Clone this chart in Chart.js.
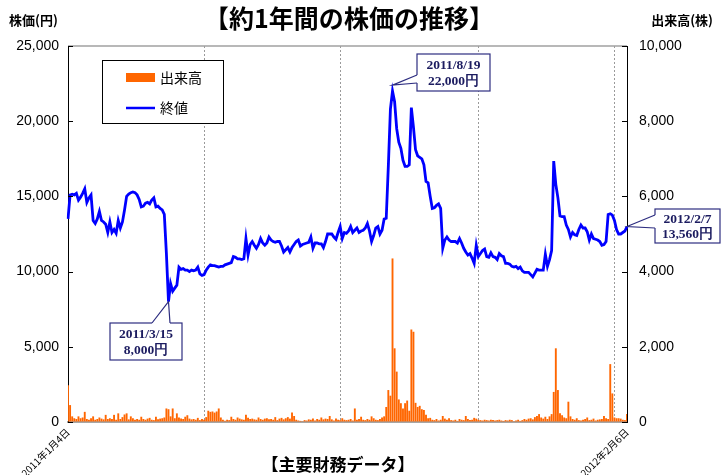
<!DOCTYPE html>
<html>
<head>
<meta charset="utf-8">
<script src="https://cdn.jsdelivr.net/npm/chart.js@4.4.1/dist/chart.umd.min.js"></script>
<style>
  body { margin: 0; background: #fff; }
  #wrap { width: 725px; height: 475px; }
</style>
</head>
<body>
<div id="wrap"><canvas id="stock_chart"></canvas></div>
<script>
// closing price (yen), one value per trading day 2011/1/4 .. 2012/2/6
var price = [
  13500, 15100, 15150, 15100, 15200, 14750, 14950, 15200, 15500, 14600,
  14900, 15100, 13400, 13200, 13500, 14000, 13400, 13300, 13150, 12600,
  13300, 12600, 12800, 12550, 13400, 12900, 13300, 14100, 15000, 15150,
  15250, 15300, 15250, 15100, 14800, 14300, 14350, 14550, 14600, 14500,
  14750, 14900, 14300, 14350, 14200, 14100, 13800, 11200, 8000, 9200,
  8700, 8900, 9100, 10300, 10150, 10200, 10100, 10100, 10000, 10100,
  10050, 10100, 10300, 9850, 9750, 9800, 10100, 10300, 10450, 10400,
  10400, 10350, 10300, 10350, 10350, 10450, 10500, 10550, 10600, 11000,
  10950, 10850, 10850, 10800, 10850, 12200, 11100, 11800, 12000, 11750,
  11550, 11800, 12200, 11900, 11750, 11900, 12300, 12100, 12000, 11950,
  12000, 12000, 11700, 11300, 11450, 11600, 11300, 11600, 11800, 12000,
  12100, 11700, 11800, 11850, 11900, 11950, 12300, 11550, 11900, 11900,
  11850, 11850, 11600, 12000, 12500, 12500, 12500, 12300, 12150, 12600,
  13000, 12200, 12600, 12550, 12700, 13000, 12600, 12750, 12900, 12600,
  12700, 12750, 12900, 13200, 12700, 12000, 12400, 12900, 13000, 12500,
  12750, 13500, 13550, 17000, 20800, 22000, 21300, 19500, 18600, 18200,
  17400, 17000, 17000, 17100, 20900, 19600, 18100, 17700, 17600, 17500,
  17100, 16000, 15900, 15000, 14200, 14250, 14400, 14500, 14200, 11550,
  12100, 12300, 12100, 12000, 12000, 12000, 11900, 12200, 11900, 11550,
  11300, 11100, 11200, 10900, 10550, 11750, 11000, 11200, 11400, 11500,
  11000, 10950, 11250, 11000, 10950, 10800, 11200, 11050, 11000, 10550,
  10550, 10500, 10350, 10300, 10350, 10200, 10300, 10050, 9950, 9950,
  9950, 9800, 9650, 9900, 10150, 10100, 10100, 10100, 11150, 10350,
  10800, 11400, 17350, 15800, 14900, 13700, 13650, 13650, 13100, 12800,
  12300, 12600, 12450, 12400, 12800, 13100, 12900, 12900, 12650, 12100,
  12500, 12200, 12150, 12100, 12000, 11750, 11800, 12000, 13800, 13850,
  13750, 13400, 12800, 12500, 12500, 12600, 12700, 13000
];

// volume (shares)
var volume = [
  980, 450, 150, 100, 80, 150, 100, 120, 270, 80,
  60, 100, 150, 60, 80, 120, 90, 70, 190, 80,
  100, 80, 190, 60, 230, 80, 130, 200, 230, 70,
  150, 100, 60, 80, 60, 140, 80, 60, 90, 110,
  60, 50, 140, 70, 90, 100, 120, 360, 340, 150,
  360, 100, 230, 120, 90, 80, 140, 180, 90, 70,
  80, 60, 110, 50, 80, 60, 130, 300, 270, 280,
  250, 280, 360, 120, 60, 30, 60, 50, 140, 80,
  60, 120, 90, 70, 60, 190, 110, 80, 90, 70,
  60, 120, 80, 60, 90, 100, 70, 80, 60, 130,
  50, 90, 110, 70, 100, 130, 90, 250, 160, 60,
  40, 30, 20, 50, 40, 70, 60, 90, 40, 80,
  60, 120, 70, 90, 80, 160, 70, 40, 90, 60,
  50, 100, 60, 50, 60, 80, 40, 360, 60, 80,
  140, 60, 50, 80, 60, 150, 100, 60, 50, 80,
  120, 150, 400, 850, 700, 4350, 1960, 1340, 600, 500,
  360, 500, 570, 300, 2460, 2400, 510, 400, 430, 340,
  320, 190, 100, 110, 60, 50, 80, 40, 60, 160,
  90, 60, 100, 50, 40, 60, 30, 80, 60, 50,
  160, 80, 50, 60, 110, 90, 60, 50, 40, 60,
  50, 40, 60, 50, 40, 50, 60, 40, 30, 50,
  40, 60, 50, 20, 40, 60, 30, 50, 80, 60,
  90, 100, 70, 130, 160, 210, 120, 90, 140, 80,
  150, 210, 800, 1960, 850, 230, 180, 120, 100, 540,
  150, 80, 60, 100, 50, 40, 60, 80, 120, 50,
  60, 90, 40, 60, 70, 80, 160, 100, 80, 1540,
  760, 120, 100, 100, 90, 60, 50, 210
];

var tickLabels = ['2011年1月4日', '2012年2月6日'];
var gridDays = [65, 130, 196, 261];
var notes = [
  { day: 48, text: ['2011/3/15', '8,000円'] },
  { day: 155, text: ['2011/8/19', '22,000円'] },
  { day: 267, text: ['2012/2/7', '13,560円'] }
];

var days = price.map(function(v, i) { return i; });
var lastDay = price.length - 1;

// callout boxes, same order as notes
var noteBoxes = [
  { x: 110, y: 323, w: 72, h: 37, b1: [152, 323], b2: [170, 323], dy: 0 },
  { x: 417, y: 54, w: 73, h: 37, b1: [417, 75], b2: [417, 83], dy: -6 },
  { x: 655, y: 209, w: 65, h: 34, b1: [655, 215], b2: [655, 228], dy: 0 }
];

function line(ctx, x1, y1, x2, y2) {
  ctx.beginPath();
  ctx.moveTo(x1, y1);
  ctx.lineTo(x2, y2);
  ctx.stroke();
}

var decorPlugin = {
  id: 'decor',
  afterDraw: function(chart) {
    var ctx = chart.ctx, area = chart.chartArea;
    var xs = chart.scales.x, ys = chart.scales.y, ys1 = chart.scales.y1;
    var lineSet = chart.data.datasets[0], barSet = chart.data.datasets[1];
    ctx.save();

    ctx.fillStyle = '#000';
    ctx.textBaseline = 'middle';
    ctx.textAlign = 'center';
    ctx.font = 'bold 25px "Noto Sans CJK JP"';
    ctx.fillText('【約1年間の株価の推移】', 349, 18);
    ctx.font = 'bold 17px "Noto Sans CJK JP"';
    ctx.fillText('【主要財務データ】', 338, 465);
    ctx.font = 'bold 13px "Noto Sans CJK JP"';
    ctx.textAlign = 'left';
    ctx.fillText('株価(円)', 9, 20);
    ctx.textAlign = 'right';
    ctx.fillText('出来高(株)', 713, 20);

    // top frame line
    ctx.strokeStyle = '#a0a0a0';
    ctx.lineWidth = 1.5;
    line(ctx, area.left, area.top, area.right, area.top);

    // short ticks inside the plot
    ctx.strokeStyle = '#000';
    ctx.lineWidth = 1;
    ys.ticks.forEach(function(t) {
      var y = Math.round(ys.getPixelForValue(t.value)) + 0.5;
      line(ctx, area.left, y, area.left + 5, y);
    });
    ys1.ticks.forEach(function(t) {
      var y = Math.round(ys1.getPixelForValue(t.value)) + 0.5;
      line(ctx, area.right - 5, y, area.right, y);
    });

    // legend
    ctx.fillStyle = '#fff';
    ctx.fillRect(102, 60, 121, 63);
    ctx.strokeStyle = '#000';
    ctx.lineWidth = 1;
    ctx.strokeRect(102.5, 60.5, 121, 63);
    ctx.fillStyle = barSet.backgroundColor;
    ctx.fillRect(126, 73, 29, 9);
    ctx.strokeStyle = lineSet.borderColor;
    ctx.lineWidth = 2.5;
    line(ctx, 126, 108, 155, 108);
    ctx.fillStyle = '#000';
    ctx.font = '14px "Noto Sans CJK JP"';
    ctx.textAlign = 'left';
    ctx.fillText(barSet.label, 160, 78);
    ctx.fillText(lineSet.label, 160, 108);

    // callouts
    var navy = '#2d2d80';
    notes.forEach(function(n, k) {
      var b = noteBoxes[k];
      var tx = xs.getPixelForValue(n.day);
      var ty = ys.getPixelForValue(price[n.day]) + b.dy;
      ctx.fillStyle = '#fff';
      ctx.fillRect(b.x, b.y, b.w, b.h);
      ctx.strokeStyle = navy;
      ctx.lineWidth = 1.2;
      ctx.strokeRect(b.x, b.y, b.w, b.h);
      ctx.beginPath();
      ctx.moveTo(b.b1[0], b.b1[1]);
      ctx.lineTo(tx, ty);
      ctx.lineTo(b.b2[0], b.b2[1]);
      ctx.closePath();
      ctx.fill();
      ctx.strokeStyle = '#fff';
      ctx.lineWidth = 2.5;
      line(ctx, b.b1[0], b.b1[1], b.b2[0], b.b2[1]);
      ctx.strokeStyle = navy;
      ctx.lineWidth = 1.2;
      ctx.beginPath();
      ctx.moveTo(b.b1[0], b.b1[1]);
      ctx.lineTo(tx, ty);
      ctx.lineTo(b.b2[0], b.b2[1]);
      ctx.stroke();
      ctx.fillStyle = '#1c1c60';
      ctx.font = 'bold 13.5px "Liberation Serif", "Times New Roman", serif';
      ctx.textAlign = 'center';
      ctx.fillText(n.text[0], b.x + b.w / 2, b.y + b.h * 0.3);
      ctx.fillText(n.text[1], b.x + b.w / 2, b.y + b.h * 0.75);
    });

    ctx.restore();
  }
};

var numFont = { size: 14, family: '"Liberation Sans", Arial, sans-serif' };

var chart = new Chart(document.getElementById('stock_chart').getContext('2d'), {
  type: 'bar',
  data: {
    labels: days,
    datasets: [{
      type: 'line',
      label: '終値',
      data: price,
      yAxisID: 'y',
      borderColor: '#0000ff',
      borderWidth: 2.8,
      pointRadius: 0,
      tension: 0,
      order: 0
    }, {
      type: 'bar',
      label: '出来高',
      data: volume,
      yAxisID: 'y1',
      backgroundColor: '#ff6600',
      barPercentage: 0.9,
      categoryPercentage: 1,
      order: 1
    }]
  },
  options: {
    responsive: true,
    maintainAspectRatio: false,
    animation: false,
    layout: { padding: { top: 46, left: 0, right: 0, bottom: 0 } },
    plugins: { legend: { display: false }, tooltip: { enabled: false } },
    scales: {
      x: {
        type: 'category',
        offset: false,
        afterBuildTicks: function(scale) {
          scale.ticks = [0].concat(gridDays, [lastDay]).map(function(v) { return { value: v }; });
        },
        afterFit: function(scale) { scale.height = 53; },
        grid: {
          offset: false,
          drawTicks: false,
          lineWidth: 1,
          color: function(c) { return (c.index > 0 && c.index <= gridDays.length) ? '#9a9a9a' : 'rgba(0,0,0,0)'; }
        },
        border: { display: true, color: '#a6a6a6', width: 2, dash: [2, 2] },
        ticks: {
          autoSkip: false,
          maxRotation: 45,
          minRotation: 45,
          padding: 4,
          color: '#000',
          font: { size: 10, family: '"Noto Sans CJK JP"' },
          callback: function(value, index) {
            if (value === 0) return tickLabels[0];
            if (value === lastDay) return tickLabels[1];
            return '';
          }
        }
      },
      y: {
        position: 'left',
        min: 0,
        max: 25000,
        afterFit: function(scale) { scale.width = 68; },
        grid: { drawOnChartArea: false, drawTicks: false },
        border: { color: '#000', width: 1 },
        ticks: {
          stepSize: 5000,
          padding: 9,
          color: '#000',
          font: numFont,
          callback: function(v) { return v.toLocaleString('en-US'); }
        }
      },
      y1: {
        position: 'right',
        min: 0,
        max: 10000,
        afterFit: function(scale) { scale.width = 98; },
        grid: { drawOnChartArea: false, drawTicks: false },
        border: { color: '#000', width: 1 },
        ticks: {
          stepSize: 2000,
          padding: 12,
          color: '#000',
          font: numFont,
          callback: function(v) { return v.toLocaleString('en-US'); }
        }
      }
    }
  },
  plugins: [decorPlugin]
});
</script>
</body>
</html>
